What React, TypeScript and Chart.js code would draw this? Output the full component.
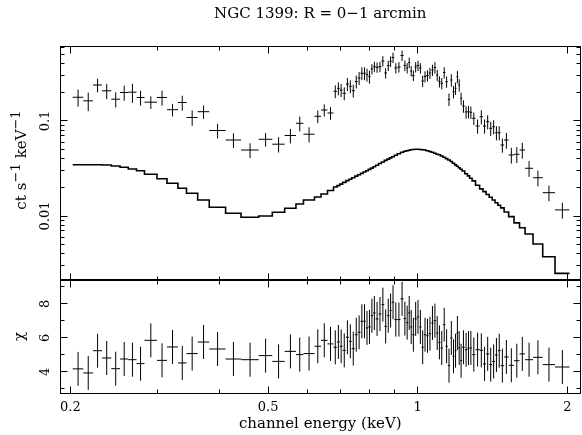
import React, { useEffect, useRef } from 'react';
import { Chart, registerables } from 'chart.js';

Chart.register(...registerables);

const FONT = "'DejaVu Serif', 'Liberation Serif', serif";

const titleText = 'NGC 1399: R = 0\u22121 arcmin';
const xTitle = 'channel energy (keV)';
// y label pieces: [text, superscript?]
const yTopTitleParts: [string, boolean][] = [['ct', false], ['s', false], ['\u22121', true], ['keV', false], ['\u22121', true]];
const yBotTitle = '\u03C7';

// channel bin edges (keV)
const energyEdges = [
  0.2022, 0.2124, 0.2222, 0.2316, 0.2418, 0.2518, 0.2616, 0.2718, 0.2820, 0.2988,
  0.3130, 0.3293, 0.3426, 0.3608, 0.3807, 0.4106, 0.4411, 0.4787, 0.5098, 0.5399,
  0.5689, 0.5890, 0.6199, 0.6389, 0.6584, 0.6770, 0.6881, 0.6967, 0.7061, 0.7170,
  0.7271, 0.7365, 0.7472, 0.7573, 0.7672, 0.7768, 0.7862, 0.7951, 0.8043, 0.8133,
  0.8228, 0.8339, 0.8452, 0.8566, 0.8674, 0.8775, 0.8865, 0.8973, 0.9098, 0.9234,
  0.9368, 0.9477, 0.9569, 0.9659, 0.9748, 0.9853, 0.9958, 1.0070, 1.0178, 1.0287,
  1.0402, 1.0523, 1.0645, 1.0769, 1.0890, 1.1001, 1.1114, 1.1243, 1.1369, 1.1496,
  1.1625, 1.1744, 1.1864, 1.1969, 1.2069, 1.2170, 1.2284, 1.2438, 1.2589, 1.2718,
  1.2867, 1.3071, 1.3322, 1.3533, 1.3729, 1.3928, 1.4123, 1.4307, 1.4494, 1.4683,
  1.4923, 1.5238, 1.5624, 1.6028, 1.6442, 1.7062, 1.7846, 1.8892, 2.0202,
];

// count rate (ct s^-1 keV^-1)
const rate = [
  0.1777, 0.1630, 0.2393, 0.2079, 0.1697, 0.1995, 0.2010, 0.1768, 0.1578, 0.1768,
  0.1315, 0.1566, 0.1089, 0.1253, 0.0794, 0.0631, 0.0495, 0.0642, 0.0570, 0.0704,
  0.0946, 0.0726, 0.1121, 0.1305, 0.1214, 0.2054, 0.2209, 0.2120, 0.1957, 0.2452,
  0.2319, 0.2084, 0.2605, 0.2836, 0.3178, 0.3178, 0.3072, 0.2926, 0.3527, 0.3729,
  0.3675, 0.3729, 0.4281, 0.3201, 0.3839, 0.4250, 0.4661, 0.3613, 0.3702, 0.4892,
  0.3839, 0.3613, 0.4129, 0.3360, 0.3013, 0.3702, 0.3839, 0.3613, 0.2637, 0.2940,
  0.3013, 0.3201, 0.3442, 0.3657, 0.3049, 0.2605, 0.2494, 0.3240, 0.2592, 0.1692,
  0.2701, 0.2034, 0.2209, 0.2926, 0.2393, 0.1734, 0.1438, 0.1244, 0.1253, 0.1235,
  0.1068, 0.0886, 0.1110, 0.0886, 0.0983, 0.0838, 0.0871, 0.0753, 0.0753, 0.0559,
  0.0631, 0.0439, 0.0446, 0.0495, 0.0318, 0.0253, 0.0176, 0.0116,
];

// 1-sigma error on the rate
const rateErr = [
  0.036, 0.036, 0.039, 0.038, 0.031, 0.036, 0.046, 0.032, 0.024, 0.032,
  0.020, 0.028, 0.020, 0.020, 0.0139, 0.0112, 0.0088, 0.0104, 0.0104, 0.0123,
  0.0168, 0.0132, 0.0171, 0.019, 0.0185, 0.0318, 0.0342, 0.0329, 0.0303, 0.0380,
  0.0359, 0.0323, 0.0404, 0.0440, 0.0493, 0.0493, 0.0476, 0.0454, 0.0441, 0.0466,
  0.0459, 0.0466, 0.0535, 0.0400, 0.0480, 0.0531, 0.0583, 0.0452, 0.0463, 0.0612,
  0.0480, 0.0452, 0.0516, 0.0420, 0.0377, 0.0463, 0.0480, 0.0452, 0.0356, 0.0397,
  0.0407, 0.0432, 0.0465, 0.0494, 0.0412, 0.0352, 0.0337, 0.0437, 0.0350, 0.0254,
  0.0405, 0.0305, 0.0331, 0.0439, 0.0359, 0.0260, 0.0216, 0.0187, 0.0188, 0.0185,
  0.0160, 0.0151, 0.0189, 0.0151, 0.0167, 0.0142, 0.0148, 0.0128, 0.0128, 0.0095,
  0.0120, 0.0083, 0.0085, 0.0094, 0.0060, 0.0048, 0.0033, 0.0022,
];

// folded model per channel
const model = [
  0.03467, 0.03467, 0.03467, 0.03442, 0.03360, 0.03256, 0.03124, 0.02998, 0.02748, 0.02469,
  0.02209, 0.01957, 0.01734, 0.01474, 0.01235, 0.01067, 0.00969, 0.01000, 0.01094, 0.01205,
  0.01338, 0.01474, 0.01585, 0.01704, 0.01855, 0.02019, 0.02089, 0.02167, 0.02258, 0.02359,
  0.02440, 0.02530, 0.02630, 0.02715, 0.02808, 0.02905, 0.02991, 0.03094, 0.03193, 0.03303,
  0.03425, 0.03569, 0.03702, 0.03848, 0.03971, 0.04088, 0.04198, 0.04365, 0.04526, 0.04682,
  0.04797, 0.04868, 0.04927, 0.04975, 0.05012, 0.05036, 0.05036, 0.05012, 0.04988, 0.04951,
  0.04868, 0.04774, 0.04682, 0.04581, 0.04472, 0.04407, 0.04281, 0.04148, 0.04019, 0.03886,
  0.03748, 0.03597, 0.03451, 0.03336, 0.03225, 0.03110, 0.02976, 0.02788, 0.02643, 0.02493,
  0.02342, 0.02110, 0.01929, 0.01806, 0.01683, 0.01573, 0.01474, 0.01380, 0.01299, 0.01217,
  0.01102, 0.00986, 0.00846, 0.00751, 0.00646, 0.00507, 0.00373, 0.00249,
];

// residuals (chi)
const chi = [
  4.18, 3.94, 5.25, 4.82, 4.19, 4.76, 4.72, 4.49, 5.86, 4.68,
  5.47, 4.53, 5.08, 5.76, 5.35, 4.76, 4.72, 4.96, 4.62, 5.21,
  5.02, 5.08, 5.51, 5.86, 5.65, 5.45, 5.76, 5.51, 5.27, 6.04,
  5.80, 5.37, 6.19, 6.33, 6.98, 6.98, 6.59, 6.65, 7.31, 7.47,
  7.12, 7.41, 7.96, 6.68, 7.31, 7.61, 8.10, 7.08, 7.08, 8.30,
  7.14, 6.90, 7.47, 6.65, 6.19, 7.12, 7.24, 6.65, 5.45, 6.19,
  6.13, 6.25, 6.88, 7.02, 6.29, 5.74, 5.41, 6.78, 5.51, 4.37,
  6.00, 4.92, 5.25, 6.29, 5.41, 4.66, 5.45, 5.31, 5.40, 5.41,
  5.02, 5.31, 5.27, 4.47, 5.06, 4.43, 4.62, 5.00, 5.25, 4.37,
  4.88, 4.39, 4.66, 5.06, 4.72, 4.86, 4.43, 4.29,
];
const chiSigma = 1;

// axis ranges
const xRange = [0.1911, 2.121];
const yTopRange = [0.00212, 0.6158];
const yBotRange = [2.76, 9.41];

// tick values
const xMajorTicks = [0.2, 0.5, 1, 2];
const xMinorTicks = [0.3, 0.4, 0.6, 0.7, 0.8, 0.9];
const yTopMajorTicks = [0.01, 0.1];
const yTopMinorTicks = [
  0.003, 0.004, 0.005, 0.006, 0.007, 0.008, 0.009,
  0.02, 0.03, 0.04, 0.05, 0.06, 0.07, 0.08, 0.09,
  0.2, 0.3, 0.4, 0.5, 0.6,
];
const yBotMajorTicks = [4, 6, 8];
const yBotMinorTicks = [3, 5, 7, 9];

type Pt = { x: number; y: number | null };

function crosses(vals: number[], errs: (i: number) => number): Pt[] {
  const pts: Pt[] = [];
  for (let i = 0; i < vals.length; i++) {
    const lo = energyEdges[i];
    const hi = energyEdges[i + 1];
    const c = (lo + hi) / 2;
    const v = vals[i];
    const e = errs(i);
    pts.push({ x: lo, y: v }, { x: hi, y: v }, { x: c, y: null });
    pts.push({ x: c, y: v - e }, { x: c, y: v + e }, { x: c, y: null });
  }
  return pts;
}

function steps(vals: number[]): Pt[] {
  const pts: Pt[] = [];
  for (let i = 0; i < vals.length; i++) {
    pts.push({ x: energyEdges[i], y: vals[i] }, { x: energyEdges[i + 1], y: vals[i] });
  }
  return pts;
}

const MAJ = 7;
const MIN = 4;

const framePlugin = {
  id: 'pgframe',
  afterDatasetsDraw(chart: any) {
    const ctx = chart.ctx as CanvasRenderingContext2D;
    const xs = chart.scales.x;
    const yt = chart.scales.yTop;
    const yb = chart.scales.yBot;
    const L = Math.floor(chart.chartArea.left) + 0.5;
    const R = Math.floor(chart.chartArea.right) + 0.5;
    const seg = (x1: number, y1: number, x2: number, y2: number) => {
      ctx.beginPath();
      ctx.moveTo(x1, y1);
      ctx.lineTo(x2, y2);
      ctx.stroke();
    };
    ctx.save();
    ctx.strokeStyle = '#000';
    ctx.lineWidth = 1;
    const panels = [
      { s: yt, major: yTopMajorTicks, minor: yTopMinorTicks },
      { s: yb, major: yBotMajorTicks, minor: yBotMinorTicks },
    ];
    for (const p of panels) {
      const T = Math.floor(p.s.top) + 0.5;
      const B = Math.floor(p.s.bottom) + 0.5;
      ctx.strokeRect(L, T, R - L, B - T);
      const xt: [number[], number][] = [[xMajorTicks, MAJ], [xMinorTicks, MIN]];
      for (const [vals, len] of xt) {
        for (const v of vals) {
          const px = Math.floor(xs.getPixelForValue(v)) + 0.5;
          seg(px, T, px, T + len);
          seg(px, B, px, B - len);
        }
      }
      const yt2: [number[], number][] = [[p.major, MAJ], [p.minor, MIN]];
      for (const [vals, len] of yt2) {
        for (const v of vals) {
          const py = Math.floor(p.s.getPixelForValue(v)) + 0.5;
          seg(L, py, L + len, py);
          seg(R, py, R - len, py);
        }
      }
    }
    ctx.lineWidth = 2;
    seg(L, yt.bottom, R, yt.bottom);
    ctx.restore();
  },
  afterDraw(chart: any) {
    // y-axis label of the upper panel, with true superscripts
    const ctx = chart.ctx as CanvasRenderingContext2D;
    const yt = chart.scales.yTop;
    const mainFont = `15px ${FONT}`;
    const supFont = `13px ${FONT}`;
    const gap = 5;
    ctx.save();
    const widths = yTopTitleParts.map(([t, sup]) => {
      ctx.font = sup ? supFont : mainFont;
      return ctx.measureText(t).width;
    });
    let total = 0;
    yTopTitleParts.forEach(([, sup], i) => {
      total += widths[i];
      if (i < yTopTitleParts.length - 1 && !yTopTitleParts[i + 1][1]) total += gap;
    });
    const centerY = (yt.top + yt.bottom) / 2 - 3;
    ctx.translate(26, centerY + total / 2);
    ctx.rotate(-Math.PI / 2);
    ctx.fillStyle = '#000';
    ctx.textBaseline = 'alphabetic';
    ctx.textAlign = 'left';
    let x = 0;
    yTopTitleParts.forEach(([t, sup], i) => {
      ctx.font = sup ? supFont : mainFont;
      ctx.fillText(t, x, sup ? -6 : 0);
      x += widths[i];
      if (i < yTopTitleParts.length - 1 && !yTopTitleParts[i + 1][1]) x += gap;
    });
    ctx.restore();
  },
};

export default function App() {
  const ref = useRef<HTMLCanvasElement>(null);
  useEffect(() => {
    if (!ref.current) return;
    const common = {
      showLine: true,
      pointRadius: 0,
      pointHoverRadius: 0,
      borderColor: '#000',
      backgroundColor: '#000',
      fill: false,
      spanGaps: false,
      tension: 0,
      xAxisID: 'x',
    };
    const chart = new Chart(ref.current, {
      type: 'scatter',
      data: {
        datasets: [
          { ...common, label: 'data', yAxisID: 'yTop', borderWidth: 1, data: crosses(rate, (i) => rateErr[i]) },
          { ...common, label: 'model', yAxisID: 'yTop', borderWidth: 1.6, data: steps(model) },
          { ...common, label: 'chi', yAxisID: 'yBot', borderWidth: 1, data: crosses(chi, () => chiSigma) },
        ] as any,
      },
      options: {
        animation: false,
        responsive: false,
        devicePixelRatio: 1,
        events: [],
        layout: { padding: { left: 0, right: 2, top: 0, bottom: 0 } },
        plugins: {
          legend: { display: false },
          tooltip: { enabled: false },
          title: {
            display: true,
            text: titleText,
            fullSize: false,
            color: '#000',
            font: { family: FONT, size: 15, weight: 'normal', lineHeight: 1.2 },
            padding: { top: 5, bottom: 23 },
          },
        },
        scales: {
          x: {
            type: 'logarithmic',
            position: 'bottom',
            min: xRange[0],
            max: xRange[1],
            bounds: 'data',
            grid: { display: false, drawTicks: false },
            border: { display: false },
            afterBuildTicks: (a: any) => { a.ticks = xMajorTicks.map((v) => ({ value: v })); },
            afterFit: (a: any) => { a.height = 42; },
            ticks: {
              autoSkip: false, maxRotation: 0, minRotation: 0, padding: 7, color: '#000',
              font: { family: FONT, size: 13 },
              callback: (v: any) => String(v),
            },
            title: {
              display: true, text: xTitle, color: '#000',
              font: { family: FONT, size: 15, lineHeight: 1.2 },
              padding: { top: 0, bottom: 1.5 },
            },
          },
          yBot: {
            type: 'linear',
            position: 'left',
            stack: 'panels',
            stackWeight: 113,
            weight: 1,
            min: yBotRange[0],
            max: yBotRange[1],
            bounds: 'data',
            grid: { display: false, drawTicks: false },
            border: { display: false },
            afterBuildTicks: (a: any) => { a.ticks = yBotMajorTicks.map((v) => ({ value: v })); },
            afterFit: (a: any) => { a.width = 60.5; },
            ticks: {
              minRotation: 90, maxRotation: 90, crossAlign: 'center', padding: 10.4, color: '#000',
              font: { family: FONT, size: 13 },
              callback: (v: any) => String(v),
            },
            title: {
              display: true, text: yBotTitle, color: '#000',
              font: { family: FONT, size: 15, lineHeight: 1.2 },
              padding: { top: 11, bottom: 0 },
            },
          },
          yTop: {
            type: 'logarithmic',
            position: 'left',
            stack: 'panels',
            stackWeight: 234,
            weight: 2,
            min: yTopRange[0],
            max: yTopRange[1],
            bounds: 'data',
            grid: { display: false, drawTicks: false },
            border: { display: false },
            afterBuildTicks: (a: any) => { a.ticks = yTopMajorTicks.map((v) => ({ value: v })); },
            afterFit: (a: any) => { a.width = 60.5; },
            ticks: {
              minRotation: 90, maxRotation: 90, crossAlign: 'center', padding: 0, color: '#000',
              font: { family: FONT, size: 13 },
              callback: (v: any) => String(v),
            },
            title: { display: false },
          },
        },
      } as any,
      plugins: [framePlugin],
    });
    return () => chart.destroy();
  }, []);
  return (
    <div style={{ position: 'absolute', left: 0, top: 0, width: 582, height: 435, background: '#fff' }}>
      <canvas ref={ref} width={582} height={435} style={{ display: 'block', width: 582, height: 435 }} />
    </div>
  );
}
